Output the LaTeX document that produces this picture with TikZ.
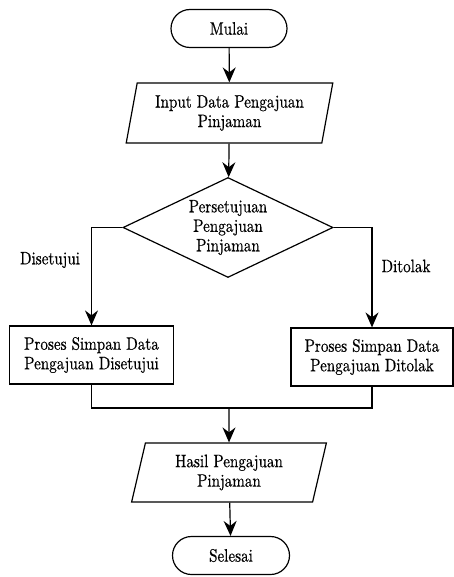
\documentclass[tikz,border=0pt]{standalone}
\usepackage{fontspec}
% Latin Modern, 10pt design, narrowed and slightly emboldened
\newfontfamily\flowfont{lmroman10-regular.otf}[FakeStretch=0.84, FakeBold=0.5]
\usetikzlibrary{shapes.geometric,shapes.misc,arrows.meta}
\begin{document}
\begin{tikzpicture}[x=1pt,y=-1pt,
  every node/.style={font=\flowfont\fontsize{18}{19.5}\selectfont, align=center, inner sep=0pt},
  line/.style={line width=1.2pt},
  flow/.style={line, -{Stealth[length=15pt,width=13pt,inset=5pt]}},
  terminal/.style={draw, line width=1.2pt, rounded rectangle, minimum width=116pt, minimum height=38pt},
  iobox/.style={draw, line width=1.2pt, trapezium, trapezium left angle=76, trapezium right angle=104,
    trapezium stretches=true, minimum height=60pt},
  procbox/.style={draw, line width=1.2pt, rectangle, minimum width=164pt, minimum height=58pt},
  decision/.style={draw, line width=1.2pt, diamond, minimum width=210pt, minimum height=100pt}
]
\useasboundingbox (0,0) rectangle (454,577);

\node[terminal] (mulai) at (229,28.5) {Mulai};
\node[iobox, minimum width=207pt] (input) at (229.5,113) {Input Data Pengajuan\\Pinjaman};
\node[decision] (cek) at (228,227.5) {};
\node (cektext) at (228,227.5) {Persetujuan\\Pengajuan\\Pinjaman};
\node[procbox] (setuju) at (91.5,355) {Proses Simpan Data\\Pengajuan Disetujui};
\node[procbox, minimum width=162pt] (tolak) at (372,357) {Proses Simpan Data\\Pengajuan Ditolak};
\node[iobox, minimum width=195pt, minimum height=59pt] (hasil) at (229,472.5) {Hasil Pengajuan\\Pinjaman};
\node[terminal, minimum width=117pt] (selesai) at (231,555.5) {Selesai};

\node (lbsetuju) at (50,260) {Disetujui};
\node (lbtolak) at (406,266) {Ditolak};

\coordinate (gabung) at (229,408);

\draw[flow] (mulai) -- (input);
\draw[flow] (input) -- (cek);
\draw[flow] (cek.west) -| (setuju.north);
\draw[flow] (cek.east) -| (tolak.north);
\draw[line] (setuju.south) |- (gabung) -| (tolak.south);
\draw[flow] (gabung) -- (hasil.north);
\draw[flow] (hasil) -- (selesai);
\end{tikzpicture}
\end{document}
